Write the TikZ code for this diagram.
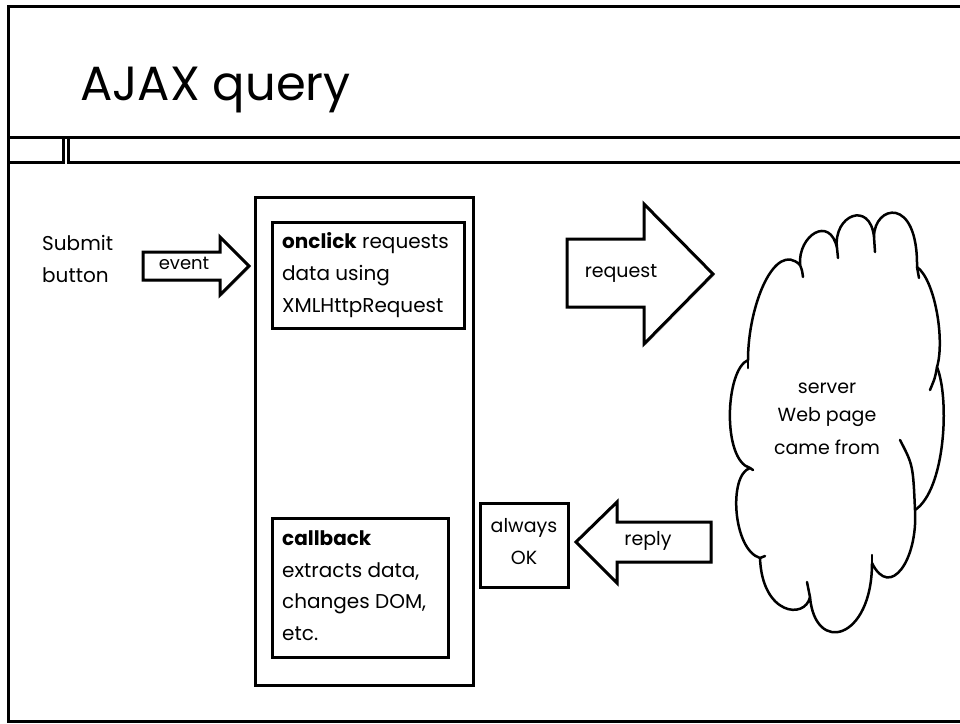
\documentclass[tikz,border=0pt]{standalone}
\usepackage{fontspec}
\setmainfont{Poppins}
\usetikzlibrary{shadows}
\tikzset{
  rule/.style={line width=3pt, draw=black},
  boxshape/.style={draw=black, line width=3pt, fill=white, line join=miter,
    drop shadow={shadow xshift=1.5pt, shadow yshift=-1.5pt, opacity=0.3}},
  cloudline/.style={draw=black, line width=2.5pt, fill=white, line join=round, line cap=round},
  cloudinner/.style={draw=black, line width=2.5pt, line cap=round},
  bodytext/.style={inner sep=0pt, anchor=base west, font=\fontsize{20}{20}\selectfont},
  centretext/.style={inner sep=0pt, anchor=center, font=\fontsize{19}{19}\selectfont},
}
\begin{document}
\begin{tikzpicture}[x=1pt, y=-1pt]
\useasboundingbox (0,0) rectangle (960,723);
\clip (0,0) rectangle (960,723);
\fill[white] (0,0) rectangle (960,723);

% slide frame and title bar
\draw[rule] (8,6) rectangle (975,721);
\draw[rule] (8,137) -- (975,137);
\draw[rule] (8,137) rectangle (63,162);
\draw[rule] (68,137) rectangle (975,162);
\node[inner sep=0pt, anchor=base west, font=\fontsize{48}{48}\selectfont] (title) at (80,100) {AJAX query};

% browser side
\node[bodytext] (sb1) at (42,250) {Submit};
\node[bodytext] (sb2) at (42,282) {button};

\path[boxshape] (143,252) -- (220,252) -- (220,237) -- (249,266) -- (220,295) -- (220,280) -- (143,280) -- cycle;
\node[centretext, font=\fontsize{18}{18}\selectfont] (ev) at (184,263) {event};

\path[boxshape] (255,197) rectangle (473,685);

\path[boxshape] (272,222) rectangle (464,328);
\node[bodytext] (oc1) at (282,248) {\textbf{onclick} requests};
\node[bodytext] (oc2) at (282,280) {data using};
\node[bodytext] (oc3) at (282,312) {XMLHttpRequest};

\path[boxshape] (272,518) rectangle (448,657);
\node[bodytext] (cb1) at (282,545) {\textbf{callback}};
\node[bodytext] (cb2) at (282,577) {extracts data,};
\node[bodytext] (cb3) at (282,608) {changes DOM,};
\node[bodytext] (cb4) at (282,640) {etc.};

\path[boxshape] (480,503) rectangle (568,587);
\node[centretext] (ok1) at (524,528) {always};
\node[centretext] (ok2) at (524,558) {OK};

% request and reply
\path[boxshape] (567,239) -- (644,239) -- (644,204) -- (713,274) -- (644,344) -- (644,307) -- (567,307) -- cycle;
\node[centretext] (req) at (621,273) {request};

\path[boxshape] (711,522) -- (617,522) -- (617,502) -- (576,542) -- (617,583) -- (617,562) -- (711,562) -- cycle;
\node[centretext] (rep) at (648,541) {reply};

% server cloud
\path[cloudline] (748,360)
  .. controls (748,305) and (775,240) .. (800,265)
  .. controls (798,235) and (830,215) .. (837,248)
  .. controls (833,215) and (870,200) .. (874,237)
  .. controls (874,205) and (918,195) .. (917,267)
  .. controls (935,280) and (945,340) .. (937,367)
  .. controls (950,400) and (945,490) .. (915,510)
  .. controls (918,560) and (890,600) .. (872,563)
  .. controls (872,640) and (815,655) .. (810,597)
  .. controls (805,620) and (762,615) .. (760,558)
  .. controls (733,550) and (728,475) .. (750,468)
  .. controls (722,460) and (725,370) .. (748,360) -- cycle;
\draw[cloudinner] (748,360) -- (748,368);
\draw[cloudinner] (800,265) .. controls (802,270) .. (803,277);
\draw[cloudinner] (837,248) -- (838,258);
\draw[cloudinner] (874,237) -- (875,252);
\draw[cloudinner] (917,267) -- (919,278);
\draw[cloudinner] (937,367) .. controls (935,378) .. (930,390);
\draw[cloudinner] (900,440) .. controls (913,465) .. (915,510);
\draw[cloudinner] (872,563) -- (872,555);
\draw[cloudinner] (810,597) -- (807,582);
\draw[cloudinner] (760,558) -- (765,556);
\draw[cloudinner] (750,468) -- (753,470);

\node[centretext] (sv1) at (827,388) {server};
\node[centretext] (sv2) at (827,417) {Web page};
\node[centretext] (sv3) at (827,447) {came from};
\end{tikzpicture}
\end{document}
